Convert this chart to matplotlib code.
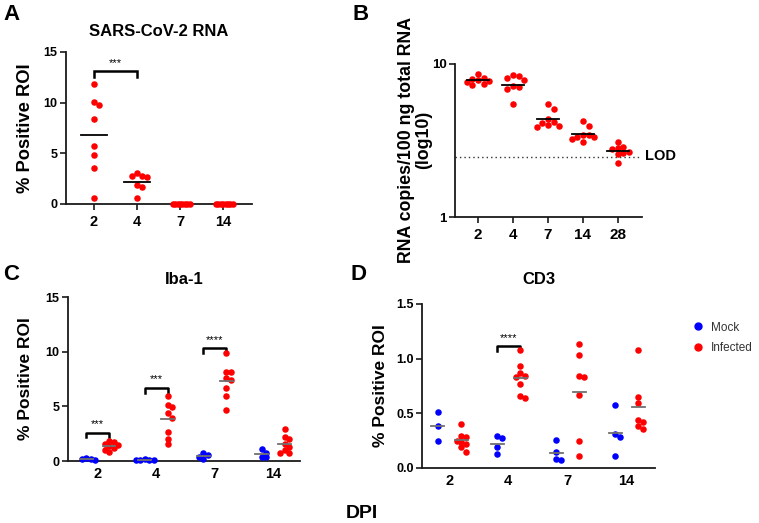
import numpy as np
import matplotlib
matplotlib.use("Agg")
import matplotlib.pyplot as plt
from matplotlib.lines import Line2D

plt.rcParams['font.family'] = ['Liberation Sans', 'DejaVu Sans']

# ---------------- data ----------------
days_a = ['2', '4', '7', '14']
sars_rna = [
    [11.8, 10.1, 9.8, 8.4, 5.75, 4.8, 3.6, 0.6],
    [3.09, 2.79, 2.63, 2.76, 1.87, 1.64, 0.62],
    [0, 0, 0, 0, 0, 0, 0, 0],
    [0, 0, 0, 0, 0, 0, 0, 0],
]

days_b = ['2', '4', '7', '14', '28']
rna_copies = [
    [8.6, 8.1, 8.0, 7.9, 7.8, 7.6, 7.4, 7.3],
    [8.35, 8.47, 8.06, 7.9, 7.04, 6.83, 7.18, 5.45],
    [5.45, 5.08, 4.37, 4.1, 3.89, 3.94, 3.99, 4.2],
    [4.26, 3.95, 3.44, 3.32, 3.11, 3.22, 3.32, 3.44],
    [3.1, 2.81, 2.85, 2.67, 2.61, 2.57, 2.24, 2.77],
]
lod = 2.48

days_cd = ['2', '4', '7', '14']
iba1_mock = [
    [0.3, 0.2, 0.15, 0.1],
    [0.18, 0.1, 0.08, 0.05, 0.05],
    [0.7, 0.55, 0.4, 0.18],
    [1.07, 0.76, 0.4, 0.33],
]
iba1_infected = [
    [1.85, 1.75, 1.6, 1.5, 1.35, 1.2, 1.0, 0.8],
    [5.9, 5.15, 4.95, 4.35, 3.95, 2.65, 2.05, 1.6],
    [9.9, 8.15, 8.1, 7.55, 7.4, 6.65, 5.9, 4.65],
    [2.95, 2.15, 2.05, 1.6, 1.3, 1.0, 0.75, 0.7],
]
cd3_mock = [
    [0.514, 0.386, 0.248],
    [0.29, 0.27, 0.19, 0.13],
    [0.26, 0.15, 0.08, 0.07],
    [0.58, 0.31, 0.28, 0.11],
]
cd3_infected = [
    [0.40, 0.29, 0.28, 0.25, 0.24, 0.22, 0.19, 0.15],
    [1.08, 0.93, 0.87, 0.84, 0.83, 0.77, 0.66, 0.64],
    [1.13, 1.03, 0.84, 0.83, 0.67, 0.25, 0.11],
    [1.08, 0.65, 0.59, 0.44, 0.42, 0.38, 0.36],
]

# significance annotations
sig_a = [(0, 1, 13.1, '***')]
sig_c = [(0, 2.6, '***'), (1, 6.7, '***'), (2, 10.3, '****')]
sig_d = [(1, 1.115, '****')]

RED = '#ff0000'
BLUE = '#0000ff'

W, H = 759, 523
fig = plt.figure(figsize=(W / 100, H / 100), dpi=100)


def add_ax(l, t, r, b):
    return fig.add_axes([l / W, 1 - b / H, (r - l) / W, (b - t) / H])


def style(ax, xticks_marks=True, ysize=9, xsize=10.5):
    for s in ['top', 'right']:
        ax.spines[s].set_visible(False)
    for s in ['left', 'bottom']:
        ax.spines[s].set_linewidth(1.3)
        ax.spines[s].set_color('#1a1a1a')
    ax.tick_params(axis='y', direction='out', length=4, width=1.2,
                   labelsize=ysize, pad=2, color='#1a1a1a')
    ax.tick_params(axis='x', direction='out', length=4 if xticks_marks else 0,
                   width=1.2, labelsize=xsize, pad=4, color='#1a1a1a')
    for lab in ax.get_xticklabels() + ax.get_yticklabels():
        lab.set_fontweight('bold')


def swarm(ax, xc, vals, d=5.0):
    """Spread points horizontally (beeswarm) in pixel space."""
    vals = np.asarray(vals, float)
    tr = ax.transData
    disp = tr.transform(np.column_stack([np.full(len(vals), xc), vals]))
    placed = []
    xs_disp = np.empty(len(vals))
    order = np.argsort(-vals, kind='stable')
    for i in order:
        x0, y0 = disp[i]
        for k in [0, 1, -1, 2, -2, 3, -3, 4, -4, 5, -5, 6, -6]:
            cx = x0 + k * d
            if all((cx - px) ** 2 + (y0 - py) ** 2 >= d ** 2 - 1e-6 for px, py in placed):
                break
        placed.append((cx, y0))
        xs_disp[i] = cx
    back = tr.inverted().transform(np.column_stack([xs_disp, disp[:, 1]]))
    return back[:, 0]


MS = 22

# ---------------- Panel A ----------------
axA = add_ax(66, 52, 252, 204)
axA.set_xlim(-0.65, 3.67)
axA.set_ylim(0, 15)
axA.set_yticks([0, 5, 10, 15])
axA.set_xticks(range(len(days_a)))
axA.set_xticklabels(days_a)
style(axA, True)
for i, v in enumerate(sars_rna):
    spread = 2.4 if np.ptp(v) == 0 else 5.0
    xs = swarm(axA, i, v, d=spread)
    axA.scatter(xs, v, s=MS, color=RED, zorder=3, clip_on=False, linewidths=0)
    if np.mean(v) > 0:
        m = np.mean(v)
        axA.plot([i - 0.31, i + 0.31], [m, m], color='black', lw=1.3, zorder=4)
for (i0, i1, y, lab) in sig_a:
    axA.plot([i0, i0, i1, i1], [y - 0.6, y, y, y - 0.6], color='black', lw=1.8,
             solid_joinstyle='miter')
    axA.text((i0 + i1) / 2, y + 0.35, lab, ha='center', va='bottom', fontsize=8)
axA.set_ylabel('% Positive ROI', fontsize=13.2, fontweight='bold', labelpad=7)
fig.text((66 + 252) / 2 / W, 1 - 32 / H, 'SARS-CoV-2 RNA', ha='center', va='center',
         fontsize=12, fontweight='bold')

# ---------------- Panel B ----------------
axB = add_ax(455, 64, 642, 217)
axB.set_yscale('log')
axB.set_xlim(-0.66, 4.69)
axB.set_ylim(1, 10)
axB.set_yticks([1, 10])
axB.set_yticklabels(['1', '10'])
axB.yaxis.set_minor_locator(matplotlib.ticker.NullLocator())
axB.set_xticks(range(len(days_b)))
axB.set_xticklabels(days_b)
style(axB, True, ysize=9.5, xsize=11)
for i, v in enumerate(rna_copies):
    xs = swarm(axB, i, v, d=5.6)
    axB.scatter(xs, v, s=MS, color=RED, zorder=3, clip_on=False, linewidths=0)
    g = 10 ** np.mean(np.log10(v))
    axB.plot([i - 0.32, i + 0.32], [g, g], color='black', lw=1.3, zorder=4)
axB.axhline(lod, color='#333333', lw=1.0, ls=(0, (1, 2.2)), zorder=1)
fig.text(645 / W, 1 - 156 / H, 'LOD', ha='left', va='center', fontsize=10.5,
         fontweight='bold')
fig.text(415 / W, 1 - 140 / H, 'RNA copies/100 ng total RNA\n(log10)', rotation=90,
         ha='center', va='center', multialignment='center', fontsize=12.8,
         fontweight='bold', linespacing=1.05)

# ---------------- Panel C ----------------
OFF_M, OFF_I = -0.19, 0.2
axC = add_ax(68, 297, 300, 461)
axC.set_xlim(-0.5, 3.46)
axC.set_ylim(0, 15)
axC.set_yticks([0, 5, 10, 15])
axC.set_xticks(range(len(days_cd)))
axC.set_xticklabels(days_cd)
style(axC, False)
for i in range(len(days_cd)):
    for vals, off, col in [(iba1_mock[i], OFF_M, BLUE), (iba1_infected[i], OFF_I, RED)]:
        xs = swarm(axC, i + off, vals, d=4.5)
        axC.scatter(xs, vals, s=MS, color=col, zorder=3, clip_on=False, linewidths=0)
        m = np.mean(vals)
        axC.plot([i + off - 0.11, i + off + 0.11], [m, m], color='#707070', lw=1.3,
                 zorder=4)
for (i, y, lab) in sig_c:
    x0, x1 = i + OFF_M, i + OFF_I
    axC.plot([x0, x0, x1, x1], [y - 0.45, y, y, y - 0.45], color='black', lw=1.8)
    axC.text((x0 + x1) / 2, y + 0.3, lab, ha='center', va='bottom', fontsize=8)
axC.set_ylabel('% Positive ROI', fontsize=12.5, fontweight='bold', labelpad=9)
fig.text((68 + 300) / 2 / W, 1 - 280 / H, 'Iba-1', ha='center', va='center',
         fontsize=12, fontweight='bold')

# ---------------- Panel D ----------------
axD = add_ax(422, 304, 655, 468)
axD.set_xlim(-0.46, 3.48)
axD.set_ylim(0, 1.5)
axD.set_yticks([0, 0.5, 1.0, 1.5])
axD.set_yticklabels(['0.0', '0.5', '1.0', '1.5'])
axD.set_xticks(range(len(days_cd)))
axD.set_xticklabels(days_cd)
style(axD, False)
for i in range(len(days_cd)):
    for vals, off, col in [(cd3_mock[i], OFF_M, BLUE), (cd3_infected[i], OFF_I, RED)]:
        xs = swarm(axD, i + off, vals, d=4.5)
        axD.scatter(xs, vals, s=MS, color=col, zorder=3, clip_on=False, linewidths=0)
        m = np.mean(vals)
        axD.plot([i + off - 0.11, i + off + 0.11], [m, m], color='#707070', lw=1.3,
                 zorder=4)
for (i, y, lab) in sig_d:
    x0, x1 = i + OFF_M, i + OFF_I
    axD.plot([x0, x0, x1, x1], [y - 0.045, y, y, y - 0.045], color='black', lw=1.8)
    axD.text((x0 + x1) / 2, y + 0.03, lab, ha='center', va='bottom', fontsize=8)
axD.set_ylabel('% Positive ROI', fontsize=12.5, fontweight='bold', labelpad=6)
fig.text((422 + 655) / 2 / W, 1 - 280 / H, 'CD3', ha='center', va='center',
         fontsize=12, fontweight='bold')

handles = [Line2D([], [], marker='o', ls='none', color=BLUE, markersize=5),
           Line2D([], [], marker='o', ls='none', color=RED, markersize=5)]
fig.legend(handles, ['Mock', 'Infected'], loc='upper left',
           bbox_to_anchor=(681 / W, 1 - 311 / H), frameon=False, fontsize=8.5,
           handletextpad=0.6, labelspacing=0.75, handlelength=1.0,
           labelcolor='#333333')

# ---------------- panel letters & common label ----------------
for lab, x, y in [('A', 3, 4), ('B', 352, 4), ('C', 3, 264), ('D', 350, 264)]:
    fig.text(x / W, 1 - y / H, lab, ha='left', va='top', fontsize=16,
             fontweight='bold')
fig.text(362 / W, 1 - 513 / H, 'DPI', ha='center', va='center', fontsize=14,
         fontweight='bold')

fig.savefig('out.png', dpi=100)
